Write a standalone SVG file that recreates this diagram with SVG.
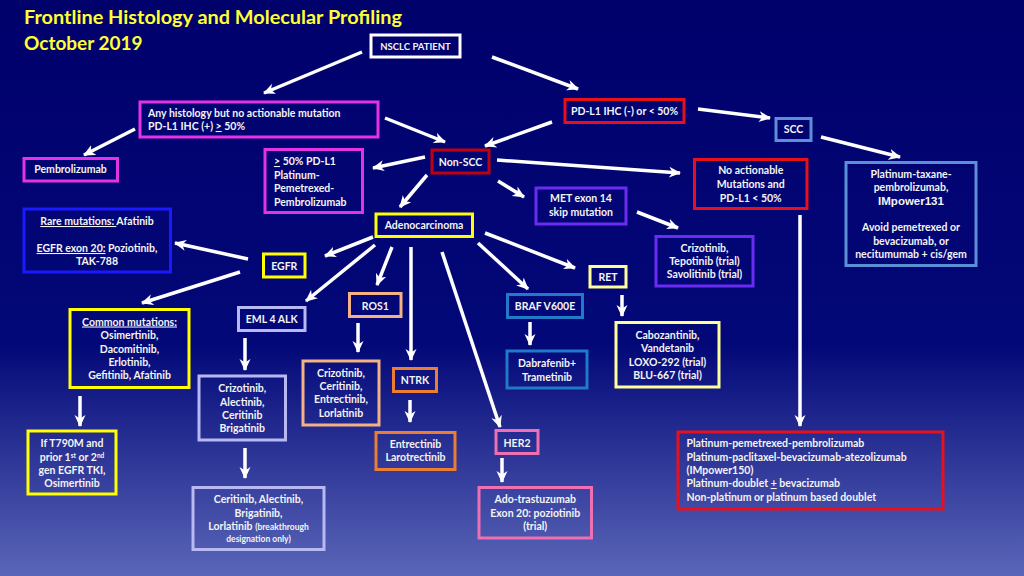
<svg xmlns="http://www.w3.org/2000/svg" width="1024" height="576" viewBox="0 0 1024 576">
<defs>
<linearGradient id="bg" x1="0" y1="0" x2="0" y2="1">
<stop offset="0" stop-color="#00006b"/>
<stop offset="0.6" stop-color="#030878"/>
<stop offset="1" stop-color="#5a66b8"/>
</linearGradient>
<marker id="ah" markerUnits="userSpaceOnUse" viewBox="0 0 12 12" refX="11" refY="6" markerWidth="12" markerHeight="12" orient="auto">
<path d="M0,0.5 L12,6 L0,11.5 L3.5,6 Z" fill="#ffffff"/>
</marker>
<style>
.b{fill:none;stroke-width:3}
.t{font-family:Lato,"Open Sans","Liberation Sans",sans-serif;font-weight:bold;font-size:10.5px;fill:#f4f4f4}
.c{text-anchor:middle}
.u{text-decoration:underline}
.ttl{font-family:Lato,"Open Sans","Liberation Sans",sans-serif;font-weight:bold;font-size:19px;fill:#ffff33}
.cn line{stroke:#ffffff;stroke-width:3.5;marker-end:url(#ah)}
.mag{stroke:#e632e6}.red{stroke:#e8101c}.dred{stroke:#c00012}.lb{stroke:#5b8fd6}.pur{stroke:#6a2cf0}
.blu{stroke:#1a1aff}.yel{stroke:#ffff00}.lyel{stroke:#ffff99}.sal{stroke:#f4b183}.braf{stroke:#2079c9}
.lav{stroke:#b8b8f2}.ora{stroke:#ed7d31}.pink{stroke:#ee6fb2}.wh{stroke:#ffffff}
</style>
</defs>
<rect x="0" y="0" width="1024" height="576" fill="url(#bg)"/>
<text class="ttl" x="24" y="24" textLength="378" lengthAdjust="spacingAndGlyphs">Frontline Histology and Molecular Profiling</text>
<text class="ttl" x="24" y="50">October 2019</text>

<g class="cn" id="connectors">
<line x1="362" y1="52" x2="264" y2="93"/>
<line x1="492" y1="57" x2="578" y2="89"/>
<line x1="135" y1="129" x2="84" y2="155"/>
<line x1="385" y1="118" x2="445" y2="142"/>
<line x1="552" y1="122" x2="485" y2="146"/>
<line x1="698" y1="109" x2="770" y2="118"/>
<line x1="821" y1="137" x2="900" y2="157"/>
<line x1="425" y1="157" x2="373" y2="168"/>
<line x1="497" y1="160" x2="680" y2="173"/>
<line x1="498" y1="181" x2="524" y2="197"/>
<line x1="427" y1="175" x2="400" y2="207"/>
<line x1="637" y1="212" x2="678" y2="228"/>
<line x1="800" y1="215" x2="800" y2="426"/>
<line x1="248" y1="259" x2="175" y2="243"/>
<line x1="240" y1="272" x2="142" y2="303"/>
<line x1="373" y1="237" x2="325" y2="256"/>
<line x1="375" y1="245" x2="306" y2="301"/>
<line x1="392" y1="247" x2="377" y2="285"/>
<line x1="411" y1="247" x2="411" y2="360"/>
<line x1="442" y1="252" x2="500" y2="427"/>
<line x1="478" y1="243" x2="528" y2="289"/>
<line x1="485" y1="233" x2="575" y2="268"/>
<line x1="622" y1="295" x2="622" y2="316"/>
<line x1="358" y1="323" x2="358" y2="352"/>
<line x1="245" y1="338" x2="245" y2="370"/>
<line x1="410" y1="400" x2="410" y2="422"/>
<line x1="530" y1="322" x2="530" y2="345"/>
<line x1="502" y1="458" x2="502" y2="482"/>
<line x1="80" y1="396" x2="80" y2="426"/>
<line x1="245" y1="448" x2="245" y2="478"/>
</g>

<g id="nsclc"><rect class="b wh" x="371" y="35" width="89" height="22"/><text class="t c" x="415.5" y="49.5" style="font-size:9.5px">NSCLC PATIENT</text></g>
<g id="anyhist"><rect class="b mag" x="140" y="102" width="238" height="35"/><text class="t" x="148" y="117">Any histology but no actionable mutation</text><text class="t" x="148" y="130">PD-L1 IHC (+) <tspan class="u">&gt;</tspan> 50%</text></g>
<g id="pdl1neg"><rect class="b red" x="565" y="99.5" width="119" height="23"/><text class="t c" x="624.5" y="114.5">PD-L1 IHC (-) or &lt; 50%</text></g>
<g id="scc"><rect class="b lb" x="776" y="118.5" width="35" height="22"/><text class="t c" x="793.5" y="133">SCC</text></g>
<g id="pembro"><rect class="b mag" x="24" y="158.5" width="93.5" height="22.5"/><text class="t c" x="70.5" y="173">Pembrolizumab</text></g>
<g id="pdl1high"><rect class="b mag" x="265" y="149.5" width="97.5" height="63"/><text class="t" x="274" y="165"><tspan class="u">&gt;</tspan> 50% PD-L1</text><text class="t" x="274" y="178.5">Platinum-</text><text class="t" x="274" y="192">Pemetrexed-</text><text class="t" x="274" y="205.5">Pembrolizumab</text></g>
<g id="nonscc"><rect class="b dred" x="432" y="150" width="57" height="23"/><text class="t c" x="460.5" y="165.5">Non-SCC</text></g>
<g id="noaction"><rect class="b red" x="694.5" y="159.5" width="112.5" height="49"/><text class="t c" x="750.75" y="174">No actionable</text><text class="t c" x="750.75" y="188">Mutations and</text><text class="t c" x="750.75" y="201.5">PD-L1 &lt; 50%</text></g>
<g id="plattaxane"><rect class="b lb" x="846" y="162.5" width="130" height="103"/><text class="t c" x="911" y="178">Platinum-taxane-</text><text class="t c" x="911" y="191">pembrolizumab,</text><text class="t c" x="911" y="204.5" style="font-family:'Liberation Sans',Arial,sans-serif;font-size:11.5px">IMpower131</text><text class="t c" x="911" y="231">Avoid pemetrexed or</text><text class="t c" x="911" y="245">bevacizumab, or</text><text class="t c" x="911" y="258">necitumumab + cis/gem</text></g>
<g id="met"><rect class="b pur" x="536" y="188" width="90" height="36"/><text class="t c" x="581" y="202">MET exon 14</text><text class="t c" x="581" y="215.5">skip mutation</text></g>
<g id="metrx"><rect class="b pur" x="656" y="236.5" width="97" height="49.5"/><text class="t c" x="704.5" y="252">Crizotinib,</text><text class="t c" x="704.5" y="265">Tepotinib (trial)</text><text class="t c" x="704.5" y="278">Savolitinib (trial)</text></g>
<g id="rare"><rect class="b blu" x="24" y="209" width="146.5" height="63"/><text class="t c" x="97" y="225"><tspan class="u">Rare mutations: </tspan> Afatinib</text><text class="t c" x="97" y="252"><tspan class="u">EGFR exon 20:</tspan> Poziotinib,</text><text class="t c" x="97" y="264.5">TAK-788</text></g>
<g id="adeno"><rect class="b yel" x="376" y="214" width="96.5" height="22.5"/><text class="t c" x="424" y="229">Adenocarcinoma</text></g>
<g id="egfr"><rect class="b yel" x="263.5" y="254" width="41.5" height="23"/><text class="t c" x="284.25" y="270">EGFR</text></g>
<g id="ret"><rect class="b lyel" x="590" y="266.5" width="36" height="20.5"/><text class="t c" x="608" y="280.5">RET</text></g>
<g id="ros1"><rect class="b sal" x="349.5" y="293.5" width="51.5" height="23"/><text class="t c" x="375.25" y="309.5">ROS1</text></g>
<g id="braf"><rect class="b braf" x="507.5" y="294.5" width="75" height="23"/><text class="t c" x="545" y="310">BRAF V600E</text></g>
<g id="eml4"><rect class="b lav" x="238.5" y="307.5" width="66.5" height="23"/><text class="t c" x="271.75" y="323">EML 4 ALK</text></g>
<g id="common"><rect class="b yel" x="70" y="309.5" width="119" height="78"/><text class="t c" x="129.5" y="325.5"><tspan class="u">Common mutations:</tspan></text><text class="t c" x="129.5" y="339">Osimertinib,</text><text class="t c" x="129.5" y="352.5">Dacomitinib,</text><text class="t c" x="129.5" y="365.5">Erlotinib,</text><text class="t c" x="129.5" y="379">Gefitinib, Afatinib</text></g>
<g id="retrx"><rect class="b lyel" x="616" y="322.5" width="103" height="64.5"/><text class="t c" x="667.5" y="339">Cabozantinib,</text><text class="t c" x="667.5" y="352">Vandetanib</text><text class="t c" x="667.5" y="365.5">LOXO-292 (trial)</text><text class="t c" x="667.5" y="379">BLU-667 (trial)</text></g>
<g id="brafrx"><rect class="b braf" x="507" y="351" width="80" height="37"/><text class="t c" x="547" y="367">Dabrafenib+</text><text class="t c" x="547" y="380.5">Trametinib</text></g>
<g id="ros1rx"><rect class="b sal" x="303" y="361" width="76" height="64"/><text class="t c" x="341" y="376.5">Crizotinib,</text><text class="t c" x="341" y="390">Ceritinib,</text><text class="t c" x="341" y="403">Entrectinib,</text><text class="t c" x="341" y="416.5">Lorlatinib</text></g>
<g id="ntrk"><rect class="b ora" x="393.5" y="368.5" width="43" height="23"/><text class="t c" x="415" y="384">NTRK</text></g>
<g id="alkrx"><rect class="b lav" x="199" y="376" width="86.5" height="64"/><text class="t c" x="242.25" y="392">Crizotinib,</text><text class="t c" x="242.25" y="405.5">Alectinib,</text><text class="t c" x="242.25" y="419">Ceritinib</text><text class="t c" x="242.25" y="432">Brigatinib</text></g>
<g id="t790m"><rect class="b yel" x="28" y="431" width="88" height="63"/><text class="t c" x="72" y="447">If T790M and</text><text class="t c" x="72" y="460.5">prior 1<tspan baseline-shift="super" style="font-size:6.5px">st</tspan> or 2<tspan baseline-shift="super" style="font-size:6.5px">nd</tspan></text><text class="t c" x="72" y="474">gen EGFR TKI,</text><text class="t c" x="72" y="487">Osimertinib</text></g>
<g id="ntrkrx"><rect class="b ora" x="376" y="432.5" width="79" height="37"/><text class="t c" x="415.5" y="448">Entrectinib</text><text class="t c" x="415.5" y="461">Larotrectinib</text></g>
<g id="her2"><rect class="b pink" x="496" y="430.5" width="42" height="23"/><text class="t c" x="517" y="446.5">HER2</text></g>
<g id="platpem"><rect class="b red" x="678" y="432" width="265" height="77"/><text class="t" x="686.5" y="447">Platinum-pemetrexed-pembrolizumab</text><text class="t" x="686.5" y="460.5">Platinum-paclitaxel-bevacizumab-atezolizumab</text><text class="t" x="686.5" y="474">(IMpower150)</text><text class="t" x="686.5" y="487">Platinum-doublet <tspan class="u">+</tspan> bevacizumab</text><text class="t" x="686.5" y="500.5">Non-platinum or platinum based doublet</text></g>
<g id="alkrx2"><rect class="b lav" x="193" y="487.5" width="131" height="62"/><text class="t c" x="258.5" y="503">Ceritinib, Alectinib,</text><text class="t c" x="258.5" y="516.5">Brigatinib,</text><text class="t c" x="258.5" y="530">Lorlatinib <tspan style="font-size:8.5px">(breakthrough</tspan></text><text class="t c" x="258.5" y="541.5" style="font-size:8.5px">designation only)</text></g>
<g id="her2rx"><rect class="b pink" x="479" y="487.5" width="112.5" height="50.5"/><text class="t c" x="535.25" y="503">Ado-trastuzumab</text><text class="t c" x="535.25" y="516.5">Exon 20: poziotinib</text><text class="t c" x="535.25" y="530">(trial)</text></g>
</svg>
